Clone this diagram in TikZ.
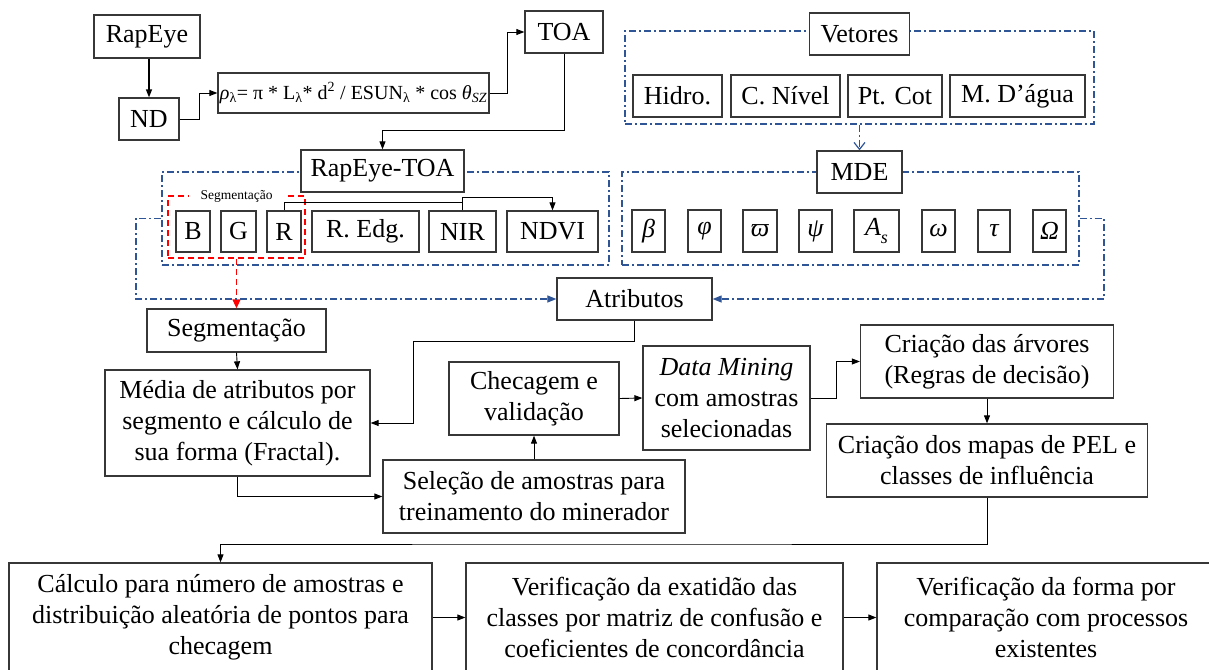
\documentclass[tikz,border=0pt]{standalone}
\usepackage{fontspec}
\setmainfont{Liberation Serif}
\usetikzlibrary{arrows.meta,calc}
\definecolor{bline}{RGB}{47,85,151}
\definecolor{bord}{RGB}{55,55,55}
\begin{document}
\begin{tikzpicture}[x=1pt,y=-1pt,
  box/.style={draw=bord, line width=1.3pt, fill=white, inner sep=0pt, align=center,
    font=\fontsize{26}{31}\selectfont},
  gbox/.style={box, minimum height=42pt, font=\fontsize{26}{30}\selectfont\itshape},
  bframe/.style={draw=bline, line width=1.2pt, dash pattern=on 7pt off 3pt on 2pt off 3pt, inner sep=0pt},
  conn/.style={draw=black, line width=0.9pt, -{Triangle[length=8pt,width=6pt]}},
  plain/.style={draw=black, line width=0.9pt},
  bconn/.style={draw=bline, line width=1.2pt, dash pattern=on 7pt off 3pt on 2pt off 3pt, -{Triangle[length=9pt,width=7pt]}},
  rconn/.style={draw=red, line width=1.5pt, dash pattern=on 6pt off 4pt, -{Triangle[length=9pt,width=8pt]}}
]
\useasboundingbox (0,0) rectangle (1209,669);
\clip (0,0) rectangle (1209,669);

% frames
\node[bframe, minimum width=469pt, minimum height=93pt] (vframe) at (859.5,77.5) {};
\node[bframe, minimum width=457pt, minimum height=93pt] (mframe) at (850.5,218.5) {};
\node[bframe, minimum width=447pt, minimum height=93pt] (rframe) at (385.5,218.5) {};
\node[draw=red, line width=1.5pt, dash pattern=on 6pt off 4pt, inner sep=0pt, minimum width=137pt, minimum height=62pt] (redf) at (236.5,227) {};
\node[fill=white, inner xsep=12pt, inner ysep=1pt, font=\fontsize{13.5}{13.5}\selectfont] (seglabel) at (236.5,196) {Segmentação};

% top chain
\node[box, minimum width=106pt, minimum height=43pt] (rapeye) at (147,36.5) {RapEye};
\node[box, minimum width=60pt, minimum height=42pt] (nd) at (149,119) {ND};
\node[box, minimum width=271pt, minimum height=40pt, font=\fontsize{20}{22}\selectfont] (formula) at (353.5,93)
  {\textit{ρ}\textsubscript{λ}= π * L\textsubscript{λ}* d\textsuperscript{2} / ESUN\textsubscript{λ} * cos \textit{θ\textsubscript{SZ}}};
\node[box, minimum width=78pt, minimum height=42pt] (toa) at (564,32) {TOA};

% vetores
\node[box, minimum width=100pt, minimum height=42pt] (vetores) at (859.5,34) {Vetores};
\node[box, minimum width=89pt, minimum height=42pt] (hidro) at (677.5,96) {Hidro.};
\node[box, minimum width=109pt, minimum height=42pt] (cnivel) at (785.5,96) {C. Nível};
\node[box, minimum width=94pt, minimum height=42pt] (ptcot) at (895,96) {Pt. Cot};
\node[box, minimum width=135pt, minimum height=42pt] (magua) at (1017.5,96) {M. D’água};

% MDE
\node[box, minimum width=85pt, minimum height=42pt] (mde) at (859.5,172) {MDE};
\node[gbox, minimum width=33pt] (g1) at (648.5,231) {β};
\node[gbox, minimum width=33pt] (g2) at (704.5,231) {φ};
\node[gbox, minimum width=34pt] (g3) at (760,231) {ϖ};
\node[gbox, minimum width=33pt] (g4) at (815.5,231) {ψ};
\node[gbox, minimum width=45pt] (g5) at (876.5,231) {A\raisebox{-8pt}{\fontsize{18}{18}\selectfont s}};
\node[gbox, minimum width=33pt] (g6) at (938.5,231) {ω};
\node[gbox, minimum width=32pt] (g7) at (994,231) {τ};
\node[gbox, minimum width=33pt] (g8) at (1049.5,231) {Ω};

% RapEye-TOA
\node[box, minimum width=163pt, minimum height=42pt] (rtoa) at (382.5,171) {RapEye-TOA};
\node[box, minimum width=34pt, minimum height=41pt] (bB) at (193,231.5) {B};
\node[box, minimum width=35pt, minimum height=41pt] (bG) at (238.5,231.5) {G};
\node[box, minimum width=34pt, minimum height=41pt] (bR) at (284,231.5) {R};
\node[box, minimum width=107pt, minimum height=41pt] (redg) at (365.5,231.5) {R. Edg.};
\node[box, minimum width=67pt, minimum height=41pt] (nir) at (462.5,231.5) {NIR};
\node[box, minimum width=91pt, minimum height=41pt] (ndvi) at (552.5,231.5) {NDVI};

% middle
\node[box, minimum width=155pt, minimum height=42pt] (atrib) at (634.5,299) {Atributos};
\node[box, minimum width=179pt, minimum height=43pt] (segm) at (236.5,330.5) {Segmentação};
\node[box, minimum width=265pt, minimum height=106pt] (media) at (237.5,423) {Média de atributos por\\segmento e cálculo de\\sua forma (Fractal).};
\node[box, minimum width=302pt, minimum height=73pt] (selecao) at (534,496.5) {Seleção de amostras para\\treinamento do minerador};
\node[box, minimum width=170pt, minimum height=73pt] (checa) at (534,398.5) {Checagem e\\validação};
\node[box, minimum width=167pt, minimum height=104pt] (dm) at (726.5,398) {\textit{Data Mining}\\com amostras\\selecionadas};
\node[box, minimum width=253pt, minimum height=73pt] (arv) at (987,361.5) {Criação das árvores\\(Regras de decisão)};
\node[box, minimum width=321pt, minimum height=73pt] (mapas) at (987,460.5) {Criação dos mapas de PEL e\\classes de influência};

% bottom row
\node[box, minimum width=423pt, minimum height=109pt] (calc) at (220.5,617.5) {Cálculo para número de amostras e\\distribuição aleatória de pontos para\\checagem};
\node[box, minimum width=377pt, minimum height=109pt] (ver1) at (654.5,617.5) {Verificação da exatidão das\\classes por matriz de confusão e\\coeficientes de concordância};
\node[box, minimum width=338pt, minimum height=109pt] (ver2) at (1046,617.5) {Verificação da forma por\\comparação com processos\\existentes};

% coordinates
\coordinate (c1) at (382.5,130);
\coordinate (jr) at (462.5,202);
\coordinate (jn) at (462.5,197);
\coordinate (bl) at (136,218.5);
\coordinate (br) at (1104,218.5);
\coordinate (ja) at (413,341);
\coordinate (c2) at (600,544);

% connectors
\draw[conn, line width=1.3pt] (rapeye.south -| nd.north) -- (nd.north);
\draw[conn] (nd.east) -- (199,119) |- (formula.west);
\draw[conn] (formula.east) -- (507,93) |- (toa.west);
\draw[conn] (toa.south) |- (c1) -- (rtoa.north);
\draw[plain] (bR.north) |- (jr);
\draw[conn] (nir.north) -- (jn) -| (ndvi.north);
\draw[rconn] (redf.south) -- (segm.north);
\draw[bconn] (rframe.west) -- (bl) |- (atrib.west);
\draw[bconn] (mframe.east) -- (br) |- (atrib.east);
\draw[draw=bline, line width=1.2pt, dash pattern=on 7pt off 3pt on 2pt off 3pt, -{Straight Barb[length=7pt,width=11pt]}] (vframe.south -| mde.north) -- (mde.north);
\draw[conn] (segm.south) -- (media.north);
\draw[conn] (atrib.south) |- (ja) |- (media.east);
\draw[conn] (media.south) |- (selecao.west);
\draw[conn] (selecao.north) -- (checa.south);
\draw[conn] (checa.east) -- (dm.west);
\draw[conn] (dm.east) -- (836,398) |- (arv.west);
\draw[conn] (arv.south) -- (mapas.north);
\draw[conn] (mapas.south) |- (c2) -| (calc.north);
\draw[conn] (calc.east) -- (ver1.west);
\draw[conn] (ver1.east) -- (ver2.west);
\end{tikzpicture}
\end{document}
